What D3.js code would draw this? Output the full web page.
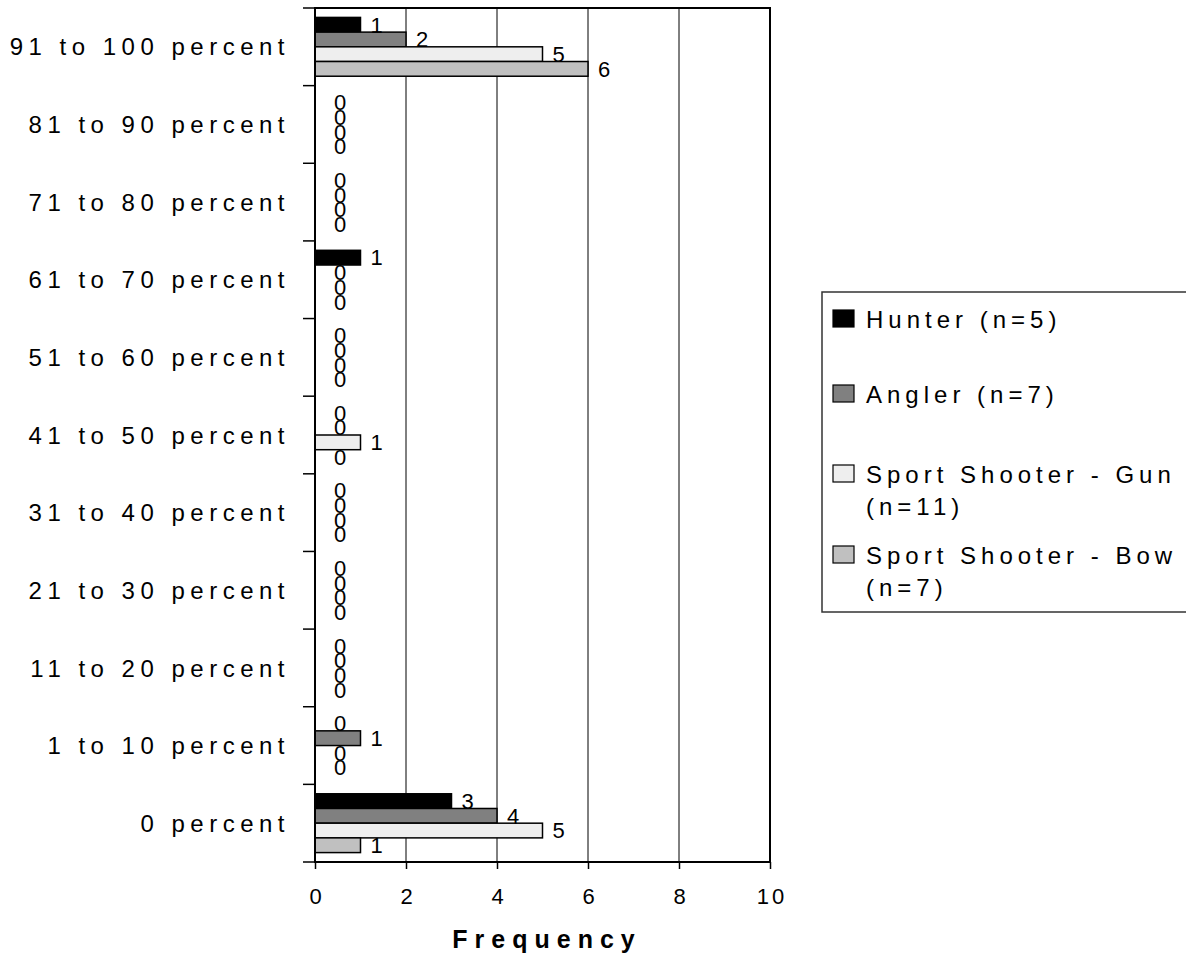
<!DOCTYPE html>
<html>
<head>
<meta charset="utf-8">
<script src="https://cdn.jsdelivr.net/npm/d3@7"></script>
<style>
  html, body { margin: 0; padding: 0; background: #fff; }
  svg { display: block; font-family: "Liberation Sans", Arial, sans-serif; }
</style>
</head>
<body>
<svg id="chart" width="1186" height="957"></svg>
<script>
const categories = ["91 to 100 percent", "81 to 90 percent", "71 to 80 percent", "61 to 70 percent",
  "51 to 60 percent", "41 to 50 percent", "31 to 40 percent", "21 to 30 percent",
  "11 to 20 percent", "1 to 10 percent", "0 percent"];
const seriesNames = ["Hunter (n=5)", "Angler (n=7)", "Sport Shooter - Gun (n=11)", "Sport Shooter - Bow (n=7)"];
const legendLines = [["Hunter (n=5)"], ["Angler (n=7)"], ["Sport Shooter - Gun", "(n=11)"], ["Sport Shooter - Bow", "(n=7)"]];
const hunter = [1, 0, 0, 1, 0, 0, 0, 0, 0, 0, 3];
const angler = [2, 0, 0, 0, 0, 0, 0, 0, 0, 1, 4];
const gun    = [5, 0, 0, 0, 0, 1, 0, 0, 0, 0, 5];
const bow    = [6, 0, 0, 0, 0, 0, 0, 0, 0, 0, 1];
const xTicks = [0, 2, 4, 6, 8, 10];
const axisTitle = "Frequency";
const colors = ["#000000", "#808080", "#eeeeee", "#c0c0c0"];

const seriesValues = [hunter, angler, gun, bow];
const svg = d3.select("#chart");
const FONT = '"Liberation Sans", Arial, sans-serif';

const pLeft = 315, pRight = 770, pTop = 8, pBottom = 862;
const x = d3.scaleLinear().domain([0, 10]).range([pLeft, pRight]);
const y = d3.scaleBand().domain(categories).range([pTop, pBottom]).padding(0);
const inner = d3.scaleBand().domain(d3.range(4)).range([0, y.bandwidth()]).paddingInner(0).paddingOuter(0.64);

// gridlines
svg.append("g").selectAll("line").data(xTicks.filter(t => t > 0 && t < 10)).join("line")
  .attr("x1", d => x(d)).attr("x2", d => x(d)).attr("y1", pTop).attr("y2", pBottom)
  .attr("stroke", "#000").attr("stroke-width", 1);

// bars
const rows = [];
seriesValues.forEach((vals, s) => vals.forEach((v, i) => rows.push({ s, v, c: categories[i] })));
svg.append("g").selectAll("rect").data(rows.filter(d => d.v > 0)).join("rect")
  .attr("x", x(0)).attr("y", d => y(d.c) + inner(d.s))
  .attr("width", d => x(d.v) - x(0)).attr("height", inner.bandwidth())
  .attr("fill", d => colors[d.s]).attr("stroke", "#000").attr("stroke-width", 1.5);

// value labels
svg.append("g").selectAll("text").data(rows).join("text")
  .attr("x", d => x(d.v) + (d.v === 0 ? 19 : 10))
  .attr("y", d => y(d.c) + inner(d.s) + inner.bandwidth() / 2 + 7.8)
  .attr("font-size", 22).attr("fill", "#000")
  .text(d => d.v);

// frame
svg.append("rect").attr("x", pLeft).attr("y", pTop).attr("width", pRight - pLeft).attr("height", pBottom - pTop)
  .attr("fill", "none").attr("stroke", "#000").attr("stroke-width", 2);

// y axis
const yAxis = d3.axisLeft(y).tickSize(0).tickPadding(0);
const gy = svg.append("g").attr("transform", `translate(${pLeft},0)`).call(yAxis);
gy.select(".domain").remove();
gy.selectAll("text").attr("font-size", 24).attr("fill", "#000")
  .attr("font-family", FONT)
  .style("letter-spacing", "5.5px")
  .attr("x", -25).attr("dy", "0.36em");
// category boundary ticks
svg.append("g").selectAll("line").data(categories.concat(["__end"])).join("line")
  .attr("x1", pLeft - 12).attr("x2", pLeft)
  .attr("y1", (d, i) => i < categories.length ? y(d) : pBottom)
  .attr("y2", (d, i) => i < categories.length ? y(d) : pBottom)
  .attr("stroke", "#000").attr("stroke-width", 1.5);

// x axis
const xAxis = d3.axisBottom(x).tickValues(xTicks).tickSize(7).tickPadding(19);
const gx = svg.append("g").attr("transform", `translate(0,${pBottom})`).call(xAxis);
gx.select(".domain").remove();
gx.selectAll("line").attr("stroke", "#000").attr("stroke-width", 1.5);
gx.selectAll("text").attr("font-size", 22).attr("fill", "#000")
  .attr("font-family", FONT)
  .style("letter-spacing", "3px").attr("dx", "1.5px");

svg.append("text").attr("x", 547).attr("y", 948).attr("text-anchor", "middle")
  .attr("font-size", 25).attr("font-weight", "bold").style("letter-spacing", "7px")
  .text(axisTitle);

// legend
const lg = svg.append("g");
lg.append("rect").attr("x", 822).attr("y", 292).attr("width", 380).attr("height", 320)
  .attr("fill", "#fff").attr("stroke", "#333").attr("stroke-width", 1.5);
const legendY = d3.scaleOrdinal().domain(seriesNames).range([319, 394, 474, 555]);
const items = lg.selectAll("g.item").data(seriesNames).join("g").attr("class", "item")
  .attr("transform", d => `translate(0,${legendY(d)})`);
items.append("rect").attr("x", 833).attr("y", -9).attr("width", 21).attr("height", 17)
  .attr("fill", (d, i) => colors[i]).attr("stroke", "#000").attr("stroke-width", 1.2);
items.each(function(d, i) {
  const g = d3.select(this);
  legendLines[i].forEach((line, j) => {
    g.append("text").attr("x", 866).attr("y", 8.5 + j * 32).attr("font-size", 24)
      .style("letter-spacing", "5px").text(line);
  });
});
</script>
</body>
</html>
